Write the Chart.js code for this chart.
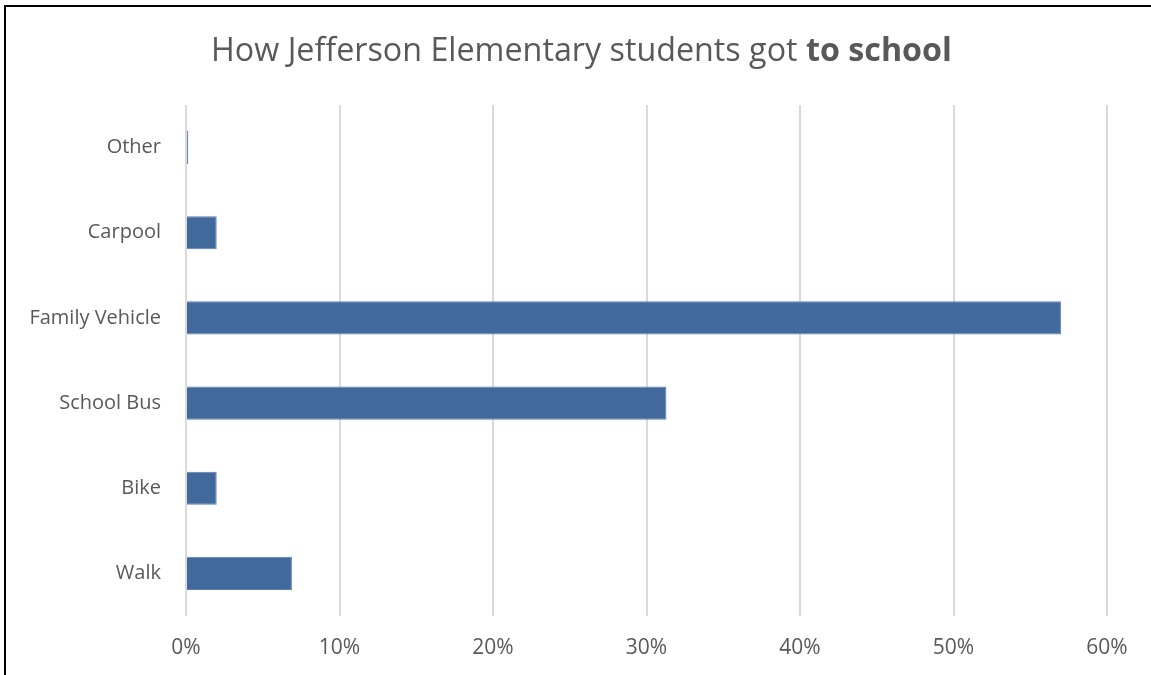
<!DOCTYPE html>
<html><head><meta charset="utf-8">
<script src="https://cdn.jsdelivr.net/npm/chart.js@4"></script>
<style>
html,body{margin:0;padding:0;background:#fff;overflow:hidden;}
#wrap{position:relative;width:1151px;height:675px;}
#frame{position:absolute;left:4px;top:5px;width:1160px;height:700px;border-top:2px solid #000;border-left:2px solid #000;pointer-events:none;}
canvas{position:absolute;left:0;top:0;}
</style></head>
<body><div id="wrap"><canvas id="c" width="1151" height="675"></canvas><div id="frame"></div></div>
<script>
const categories = ["Other", "Carpool", "Family Vehicle", "School Bus", "Bike", "Walk"];
const shares = [0.15, 2.0, 57.0, 31.3, 2.0, 6.9];
const titleRegular = "How Jefferson Elementary students got ";
const titleBold = "to school";
const FONT = "'Open Sans', sans-serif";
const GREY = "#595959";

const titlePlugin = {
  id: 'mixedTitle',
  afterDraw(chart) {
    const ctx = chart.ctx;
    ctx.save();
    const base = 30;
    ctx.font = `400 ${base}px ${FONT}`;
    const a = ctx.measureText(titleRegular).width;
    ctx.font = `700 ${base}px ${FONT}`;
    const b = ctx.measureText(titleBold).width;
    const size = Math.min(34, base * 741 / (a + b));
    ctx.font = `400 ${size}px ${FONT}`;
    const w1 = ctx.measureText(titleRegular).width;
    ctx.font = `700 ${size}px ${FONT}`;
    const w2 = ctx.measureText(titleBold).width;
    const x = 581.5 - (w1 + w2) / 2;
    const y = 61;
    ctx.textBaseline = 'alphabetic';
    ctx.textAlign = 'left';
    ctx.fillStyle = GREY;
    ctx.font = `400 ${size}px ${FONT}`;
    ctx.fillText(titleRegular, x, y);
    ctx.font = `700 ${size}px ${FONT}`;
    ctx.fillText(titleBold, x + w1, y);
    ctx.restore();
  }
};

new Chart(document.getElementById('c'), {
  type: 'bar',
  data: {
    labels: categories,
    datasets: [{
      data: shares,
      backgroundColor: '#41699b',
      borderColor: '#5a80b2',
      borderWidth: 1,
      barPercentage: 0.39,
      categoryPercentage: 1.0
    }]
  },
  options: {
    indexAxis: 'y',
    responsive: false,
    animation: false,
    layout: { padding: { top: 105, right: 44, left: 0, bottom: 0 } },
    plugins: { legend: { display: false }, tooltip: { enabled: false }, title: { display: false } },
    scales: {
      x: {
        min: 0, max: 60,
        ticks: { stepSize: 10, color: GREY, font: { family: FONT, size: 21 }, padding: 19, callback: v => v + '%' },
        grid: { color: '#dadada', lineWidth: 2, drawTicks: false },
        border: { display: false },
        afterFit(s) { s.height = 59; }
      },
      y: {
        ticks: { color: GREY, font: { family: FONT, size: 20 }, padding: 17 },
        grid: { display: false },
        border: { display: false },
        afterFit(s) { s.width = 186; }
      }
    }
  },
  plugins: [titlePlugin]
});
</script>
</body></html>
